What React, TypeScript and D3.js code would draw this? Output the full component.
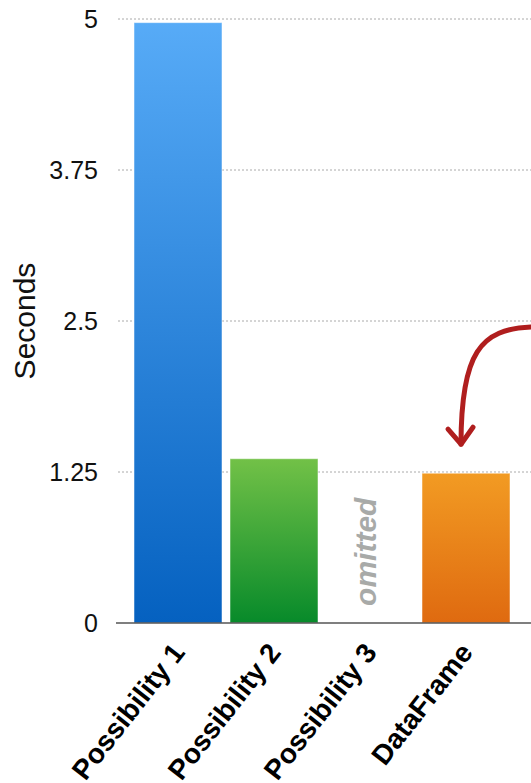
import React from "react";
import * as d3 from "d3";

const categories = ["Possibility 1", "Possibility 2", "Possibility 3", "DataFrame"];
const seconds: (number | null)[] = [4.97, 1.36, null, 1.24];
const yTicks = [0, 1.25, 2.5, 3.75, 5];
const tickLabels = ["0", "1.25", "2.5", "3.75", "5"];
const gradients = [
  ["#57abf7", "#0561c0"],
  ["#72c147", "#078a2a"],
  ["#999999", "#777777"],
  ["#f29b23", "#df6a10"],
];
const omittedLabel = "omitted";
const yTitle = "Seconds";

const W = 531;
const H = 783;

export default function App() {
  const y = d3.scaleLinear().domain([0, 5]).range([623, 19]);
  const x = d3.scaleBand<string>().domain(categories).range([134, 510]).paddingInner(8 / 96).paddingOuter(0);
  const axisLeft = 116;
  const font = "'Liberation Sans', Arial, Helvetica, sans-serif";

  // arrow annotation in data space
  const arrowStart: [number, number] = [W, y(2.45)];
  const dfx = (x("DataFrame") as number) + x.bandwidth() / 2 - 5;
  const arrowEnd: [number, number] = [dfx, y(1.48)];
  const p = d3.path();
  p.moveTo(arrowStart[0], arrowStart[1]);
  p.bezierCurveTo(arrowStart[0] - 50, arrowStart[1] + 2, arrowEnd[0], arrowStart[1] + 25, arrowEnd[0], arrowEnd[1]);
  const head = d3.path();
  head.moveTo(arrowEnd[0] - 13, arrowEnd[1] - 15);
  head.lineTo(arrowEnd[0], arrowEnd[1]);
  head.lineTo(arrowEnd[0] + 12, arrowEnd[1] - 17);

  return (
    <svg width={W} height={H} style={{ position: "absolute", left: 0, top: 0, background: "#fff" }}>
      <defs>
        {gradients.map((g, i) => (
          <linearGradient key={i} id={`g${i}`} x1="0" y1="0" x2="0" y2="1">
            <stop offset="0%" stopColor={g[0]} />
            <stop offset="100%" stopColor={g[1]} />
          </linearGradient>
        ))}
      </defs>
      {yTicks.slice(1).map((t) => (
        <line key={t} x1={axisLeft + 2} x2={W} y1={y(t)} y2={y(t)} stroke="#aaa" strokeWidth={1} strokeDasharray="2,2" />
      ))}
      {yTicks.map((t, i) => (
        <text key={t} x={98} y={y(t) + 9} textAnchor="end" fontFamily={font} fontSize={25} fill="#111">
          {tickLabels[i]}
        </text>
      ))}
      <text
        transform={`translate(35,${(y(0) + y(5)) / 2}) rotate(-90)`}
        textAnchor="middle"
        fontFamily={font}
        fontSize={30}
        fill="#111"
      >
        {yTitle}
      </text>
      {categories.map((c, i) => {
        const v = seconds[i];
        const bx = x(c) as number;
        if (v == null) {
          return (
            <text
              key={c}
              transform={`translate(${bx + x.bandwidth() / 2 + 6},${y(0.59)}) rotate(-90)`}
              textAnchor="middle"
              fontFamily={font}
              fontWeight="bold"
              fontStyle="italic"
              fontSize={30}
              fill="#a8aaa8"
            >
              {omittedLabel}
            </text>
          );
        }
        return (
          <rect
            key={c}
            x={bx}
            y={y(v)}
            width={x.bandwidth()}
            height={y(0) - y(v)}
            fill={`url(#g${i})`}
            stroke="rgba(255,255,255,0.5)"
            strokeWidth={1}
          />
        );
      })}
      <line x1={axisLeft} x2={W} y1={y(0)} y2={y(0)} stroke="#555" strokeWidth={1.5} />
      {categories.map((c) => {
        const cx = (x(c) as number) + x.bandwidth() / 2;
        return (
          <text
            key={c}
            transform={`translate(${cx + 8},${y(0) + 30}) rotate(-52)`}
            textAnchor="end"
            fontFamily={font}
            fontWeight="bold"
            fontSize={28}
            fill="#000"
          >
            {c}
          </text>
        );
      })}
      <path d={p.toString()} fill="none" stroke="#b01e1e" strokeWidth={5} strokeLinecap="round" />
      <path d={head.toString()} fill="none" stroke="#b01e1e" strokeWidth={5} strokeLinecap="round" strokeLinejoin="round" />
    </svg>
  );
}
